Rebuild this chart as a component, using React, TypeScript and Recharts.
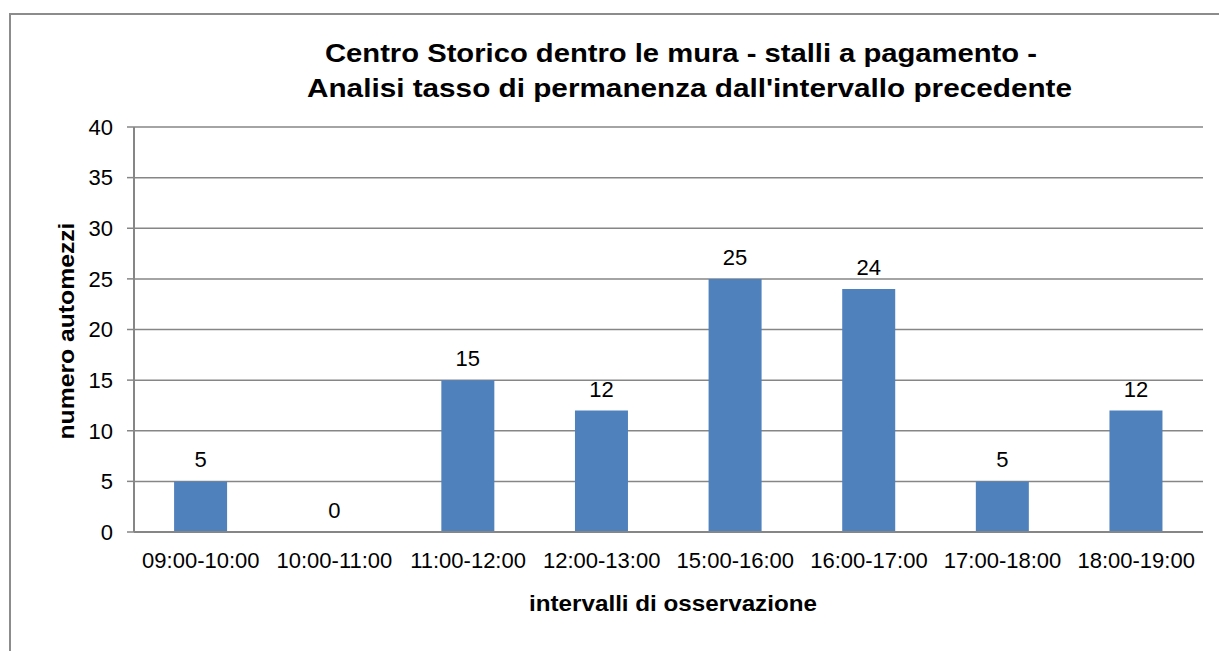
import React from 'react';
import { BarChart, Bar, XAxis, YAxis, CartesianGrid, LabelList, ReferenceDot } from 'recharts';

const categories = [
  '09:00-10:00',
  '10:00-11:00',
  '11:00-12:00',
  '12:00-13:00',
  '15:00-16:00',
  '16:00-17:00',
  '17:00-18:00',
  '18:00-19:00',
];
const automezzi = [5, 0, 15, 12, 25, 24, 5, 12];
const yTicks = [0, 5, 10, 15, 20, 25, 30, 35, 40];

const titleLines = [
  'Centro Storico dentro le mura - stalli a pagamento -',
  "Analisi tasso di permanenza dall'intervallo precedente",
];

const data = categories.map((c, i) => ({ name: c, value: automezzi[i] }));
// zero-height bars get no label from LabelList, so mark them separately
const zeroPoints = data.filter((d) => d.value === 0);

const FONT = '"Liberation Sans", Arial, sans-serif';
const GRID = '#868686';

export default function App() {
  return (
    <div style={{ position: 'absolute', left: 0, top: 0, width: 1219, height: 651, overflow: 'hidden', background: '#fff', fontFamily: FONT }}>
      <div style={{ position: 'absolute', left: 9, top: 13, width: 1300, height: 800, border: '2px solid #8c8c8c', boxSizing: 'border-box' }} />
      <div style={{ position: 'absolute', left: 0, top: 0 }}>
        <BarChart width={1219} height={651} data={data} margin={{ top: 127, right: 16, bottom: 79, left: 74 }} barCategoryGap="30%">
          <CartesianGrid vertical={false} stroke={GRID} strokeWidth={1.5} />
          <XAxis
            dataKey="name"
            tickLine={false}
            axisLine={{ stroke: GRID, strokeWidth: 2 }}
            tick={{ fill: '#000', fontSize: 22, fontFamily: FONT }}
            tickMargin={14}
            height={40}
            interval={0}
          />
          <YAxis
            domain={[0, 40]}
            ticks={yTicks}
            width={60}
            axisLine={{ stroke: GRID, strokeWidth: 2 }}
            tickLine={{ stroke: GRID, strokeWidth: 1.5 }}
            tickSize={7}
            tickMargin={14}
            tick={{ fill: '#000', fontSize: 22, fontFamily: FONT }}
          />
          <Bar dataKey="value" fill="#4F81BD" isAnimationActive={false}>
            <LabelList dataKey="value" position="top" offset={14} fill="#000" fontSize={22} fontFamily={FONT} />
          </Bar>
          {zeroPoints.map((p) => (
            <ReferenceDot
              key={p.name}
              x={p.name}
              y={p.value}
              r={0}
              fill="none"
              stroke="none"
              label={{ value: String(p.value), position: 'top', offset: 14, fill: '#000', fontSize: 22, fontFamily: FONT }}
            />
          ))}
        </BarChart>
      </div>
      <svg width={1219} height={651} style={{ position: 'absolute', left: 0, top: 0, pointerEvents: 'none' }}>
        <text x={681} y={62} textAnchor="middle" fontSize={26} fontWeight="bold" fontFamily={FONT} textLength={712} lengthAdjust="spacingAndGlyphs">
          {titleLines[0]}
        </text>
        <text x={689.5} y={97} textAnchor="middle" fontSize={26} fontWeight="bold" fontFamily={FONT} textLength={765} lengthAdjust="spacingAndGlyphs">
          {titleLines[1]}
        </text>
        <text x={673} y={611} textAnchor="middle" fontSize={22} fontWeight="bold" fontFamily={FONT} textLength={288} lengthAdjust="spacingAndGlyphs">
          intervalli di osservazione
        </text>
        <text x={0} y={0} transform="translate(74 331) rotate(-90)" textAnchor="middle" fontSize={22} fontWeight="bold" fontFamily={FONT} textLength={217} lengthAdjust="spacingAndGlyphs">
          numero automezzi
        </text>
      </svg>
    </div>
  );
}
